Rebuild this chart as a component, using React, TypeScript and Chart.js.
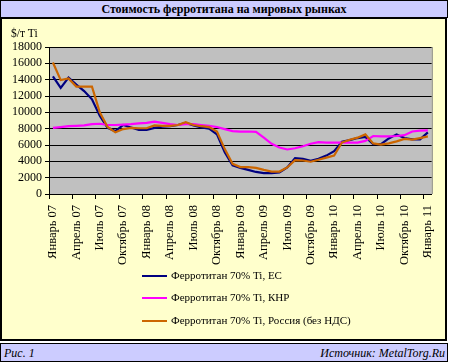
import React, { useEffect, useRef } from 'react';
import { Chart, registerables } from 'chart.js';

Chart.register(...registerables);

const categories: string[] = [
  'Январь 07', 'Февраль 07', 'Март 07', 'Апрель 07', 'Май 07', 'Июнь 07',
  'Июль 07', 'Август 07', 'Сентябрь 07', 'Октябрь 07', 'Ноябрь 07', 'Декабрь 07',
  'Январь 08', 'Февраль 08', 'Март 08', 'Апрель 08', 'Май 08', 'Июнь 08',
  'Июль 08', 'Август 08', 'Сентябрь 08', 'Октябрь 08', 'Ноябрь 08', 'Декабрь 08',
  'Январь 09', 'Февраль 09', 'Март 09', 'Апрель 09', 'Май 09', 'Июнь 09',
  'Июль 09', 'Август 09', 'Сентябрь 09', 'Октябрь 09', 'Ноябрь 09', 'Декабрь 09',
  'Январь 10', 'Февраль 10', 'Март 10', 'Апрель 10', 'Май 10', 'Июнь 10',
  'Июль 10', 'Август 10', 'Сентябрь 10', 'Октябрь 10', 'Ноябрь 10', 'Декабрь 10',
  'Январь 11',
];

const euValues: number[] = [
  14400, 13000, 14250, 13400, 12600, 11600, 9600, 8100, 7700, 8450, 8150, 7850,
  7850, 8100, 8250, 8300, 8450, 8700, 8400, 8150, 8000, 7300, 5100, 3500,
  3200, 2950, 2700, 2550, 2550, 2650, 3250, 4400, 4300, 4050, 4300, 4700,
  5250, 6400, 6600, 6850, 7000, 6100, 6100, 6800, 7300, 6850, 6700, 6700,
  7550,
];

const chinaValues: number[] = [
  8100, 8200, 8300, 8350, 8400, 8550, 8600, 8450, 8450, 8500, 8550, 8650,
  8700, 8850, 8700, 8550, 8450, 8550, 8550, 8450, 8350, 8200, 7950, 7700,
  7650, 7650, 7600, 6900, 6150, 5700, 5450, 5600, 5850, 6150, 6350, 6300,
  6300, 6300, 6300, 6300, 6500, 7100, 7050, 7050, 7100, 7200, 7650, 7750,
  7800,
];

const russiaValues: number[] = [
  16100, 13950, 14150, 13150, 13150, 13150, 10000, 8200, 7550, 7950, 8100, 8050,
  8050, 8400, 8350, 8350, 8450, 8800, 8450, 8300, 8200, 7650, 5500, 3700,
  3300, 3300, 3200, 2950, 2750, 2750, 3250, 4150, 4100, 3950, 4200, 4450,
  4700, 6300, 6650, 6900, 7300, 6200, 6050, 6200, 6450, 6750, 6650, 6850,
  7050,
];

const seriesNames: string[] = [
  'Ферротитан 70% Ti, ЕС',
  'Ферротитан 70% Ti, КНР',
  'Ферротитан 70% Ti, Россия (без НДС)',
];
const seriesColors: string[] = ['#000080', '#ff00ff', '#cc6600'];

const yTicks = { min: 0, max: 18000, step: 2000 };

const FONT = 'Liberation Serif';

const plotBg = {
  id: 'plotBg',
  beforeDraw(chart: any) {
    const { ctx, chartArea } = chart;
    ctx.save();
    ctx.fillStyle = '#c0c0c0';
    ctx.fillRect(chartArea.left, chartArea.top, chartArea.right - chartArea.left, chartArea.bottom - chartArea.top);
    ctx.restore();
  },
  afterDraw(chart: any) {
    const { ctx, chartArea } = chart;
    ctx.save();
    ctx.strokeStyle = '#808080';
    ctx.lineWidth = 1;
    ctx.beginPath();
    ctx.moveTo(chartArea.right + 0.5, chartArea.top);
    ctx.lineTo(chartArea.right + 0.5, chartArea.bottom);
    ctx.stroke();
    ctx.restore();
  },
};

export default function App() {
  const canvasRef = useRef<HTMLCanvasElement | null>(null);

  useEffect(() => {
    if (!canvasRef.current) return;
    const values = [euValues, chinaValues, russiaValues];
    const orders = [3, 2, 1];
    const chart = new Chart(canvasRef.current, {
      type: 'line',
      data: {
        labels: categories,
        datasets: values.map((v, k) => ({
          label: seriesNames[k],
          data: v,
          borderColor: seriesColors[k],
          backgroundColor: seriesColors[k],
          borderWidth: 2.2,
          pointRadius: 0,
          tension: 0,
          order: orders[k],
        })),
      },
      options: {
        animation: false,
        responsive: false,
        maintainAspectRatio: false,
        layout: { padding: { left: 0, top: 47, right: 14, bottom: 0 } },
        plugins: { legend: { display: false }, tooltip: { enabled: false } },
        scales: {
          x: {
            offset: true,
            grid: {
              offset: true,
              drawOnChartArea: false,
              drawTicks: true,
              tickLength: 5,
              lineWidth: 1,
              color: (ctx: any) => (typeof ctx.index === 'number' && ctx.index % 3 === 0 ? '#000' : 'rgba(0,0,0,0)'),
            },
            border: { display: true, color: '#000', width: 1 },
            ticks: {
              autoSkip: false,
              maxRotation: 90,
              minRotation: 90,
              padding: 6,
              color: '#000',
              font: { family: FONT, size: 12.5 },
              callback: (_v: any, i: number) => (i % 3 === 0 ? categories[i] : ''),
            },
            afterFit: (s: any) => { s.height = 168; },
          },
          y: {
            min: yTicks.min,
            max: yTicks.max,
            ticks: {
              stepSize: yTicks.step,
              autoSkip: false,
              padding: 3,
              color: '#000',
              font: { family: FONT, size: 12 },
              callback: (v: any) => String(v),
            },
            grid: { color: '#000', lineWidth: 1, tickLength: 4 },
            border: { display: true, color: '#000', width: 1 },
            afterFit: (s: any) => { s.width = 49; },
          },
        },
      },
      plugins: [plotBg],
    } as any);
    return () => chart.destroy();
  }, []);

  const abs = (o: React.CSSProperties): React.CSSProperties => ({ position: 'absolute', boxSizing: 'border-box', fontFamily: FONT, ...o });
  const legendY = [276, 298, 321];

  return (
    <div style={abs({ left: 0, top: 0, width: 449, height: 362, color: '#000', background: '#fff' })}>
      <div style={abs({ left: 0, top: 0, width: 448, height: 18, background: '#ccccff', border: '1px solid #000', textAlign: 'center', fontWeight: 'bold', fontSize: 12, lineHeight: '16px' })}>
        Стоимость ферротитана на мировых рынках
      </div>
      <div style={abs({ left: 0, top: 17, width: 447, height: 324, background: '#ffffcc', border: '2px solid #000' })} />
      <div style={abs({ left: 0, top: 343, width: 448, height: 19, background: '#ccccff', border: '1px solid #000' })}>
        <span style={abs({ left: 3, top: 2, fontStyle: 'italic', fontSize: 12, lineHeight: '14px', whiteSpace: 'nowrap' })}>Рис. 1</span>
        <span style={abs({ right: 2, top: 2, fontStyle: 'italic', fontSize: 12, lineHeight: '14px', whiteSpace: 'nowrap' })}>Источник: MetalTorg.Ru</span>
      </div>
      <canvas ref={canvasRef} width={449} height={362} style={{ position: 'absolute', left: 0, top: 0, width: 449, height: 362, pointerEvents: 'none' }} />
      <div style={abs({ left: 11, top: 26, fontSize: 11.5, lineHeight: '14px', whiteSpace: 'nowrap' })}>$/т Ti</div>
      {seriesNames.map((n, k) => (
        <div key={n}>
          <div style={abs({ left: 142, top: legendY[k] - 1, width: 25, height: 2, background: seriesColors[k] })} />
          <div style={abs({ left: 171, top: legendY[k] - 8, fontSize: 11, lineHeight: '15px', whiteSpace: 'nowrap' })}>{n}</div>
        </div>
      ))}
    </div>
  );
}
